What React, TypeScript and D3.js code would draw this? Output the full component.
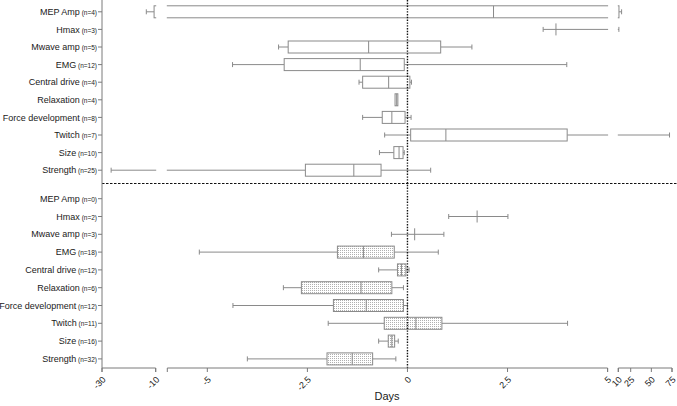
import React from 'react';
import * as d3 from 'd3';

const categories = [
  'MEP Amp', 'Hmax', 'Mwave amp', 'EMG', 'Central drive',
  'Relaxation', 'Force development', 'Twitch', 'Size', 'Strength',
];
const topN = [4, 3, 5, 12, 4, 4, 8, 7, 10, 25];
const bottomN = [0, 2, 3, 18, 12, 6, 12, 11, 16, 32];

type V = number | null;
const topMin: V[] = [-13.5, 3.39, -3.22, -4.37, -1.21, -0.31, -1.12, -0.57, -0.7, -26.6];
const topQ1: V[] = [-10.6, null, -2.98, -3.08, -1.12, -0.31, -0.63, 0.08, -0.34, -2.55];
const topMed: V[] = [2.15, 3.71, -0.97, -1.18, -0.47, -0.27, -0.39, 0.96, -0.21, -1.34];
const topQ3: V[] = [10.8, null, 0.83, -0.08, 0.06, -0.24, -0.06, 3.99, -0.11, -0.66];
const topMax: V[] = [14, 10.7, 1.61, 3.98, 0.1, -0.24, 0.09, 72, -0.08, 0.58];

const botMin: V[] = [null, 1.03, -0.4, -5.2, -0.72, -3.1, -4.36, -1.98, -0.72, -4.0];
const botQ1: V[] = [null, null, null, -1.75, -0.25, -2.65, -1.85, -0.58, -0.48, -2.01];
const botMed: V[] = [null, 1.74, 0.18, -1.1, -0.15, -1.16, -1.03, 0.21, -0.39, -1.38];
const botQ3: V[] = [null, null, null, -0.33, -0.04, -0.39, -0.1, 0.86, -0.32, -0.87];
const botMax: V[] = [null, 2.51, 0.91, 0.77, 0.04, -0.1, 0, 4.0, -0.23, -0.29];

const seg1Domain = [-30, -10];
const seg2Domain = [-6, 5];
const seg3Domain = [10, 75];
const seg1Ticks = [-30, -10];
const seg2Ticks = [-5, -2.5, 0, 2.5, 5];
const seg3Ticks = [10, 25, 50, 75];
const xTitle = 'Days';

const W = 677;
const H = 406;
const AXIS_X = 102;
const AXIS_Y = 368;
const GRAY = '#8a8a8a';
const AXIS_GRAY = '#7a7a7a';
const TEXT = '#1a1a1a';
const FONT = '"Liberation Sans", Arial, sans-serif';
const BOX_H = 12;
const CAP_H = 5;

const segScales = [
  d3.scaleLinear().domain(seg1Domain).range([102, 155.7]),
  d3.scaleLinear().domain(seg2Domain).range([167.3, 607.6]),
  d3.scaleLinear().domain(seg3Domain).range([618.3, 672]),
];
const segTicks = [seg1Ticks, seg2Ticks, seg3Ticks];

const yTop = d3.scaleBand<string>().domain(categories).range([3, 179]).padding(0);
const yBot = d3.scaleBand<string>().domain(categories).range([189.8, 367.8]).padding(0);

type Row = { min: V; q1: V; med: V; q3: V; max: V };
const topRows: Row[] = categories.map((_, i) => ({ min: topMin[i], q1: topQ1[i], med: topMed[i], q3: topQ3[i], max: topMax[i] }));
const botRows: Row[] = categories.map((_, i) => ({ min: botMin[i], q1: botQ1[i], med: botMed[i], q3: botQ3[i], max: botMax[i] }));

function BoxRow({ r, x, cy, fill }: { r: Row; x: d3.ScaleLinear<number, number>; cy: number; fill: string }) {
  if (r.med == null && r.min == null) return null;
  const els: React.ReactNode[] = [];
  if (r.q1 == null || r.q3 == null) {
    const a = x(r.min as number), b = x(r.max as number);
    els.push(<line key="w" x1={a} x2={b} y1={cy} y2={cy} />);
    els.push(<line key="c1" x1={a} x2={a} y1={cy - CAP_H / 2} y2={cy + CAP_H / 2} />);
    els.push(<line key="c2" x1={b} x2={b} y1={cy - CAP_H / 2} y2={cy + CAP_H / 2} />);
    if (r.med != null) {
      const m = x(r.med);
      els.push(<line key="m" x1={m} x2={m} y1={cy - BOX_H / 2} y2={cy + BOX_H / 2} />);
    }
  } else {
    const a = x(r.min as number), q1 = x(r.q1), q3 = x(r.q3), b = x(r.max as number);
    if (r.min != null && r.min < r.q1) {
      els.push(<line key="wl" x1={a} x2={q1} y1={cy} y2={cy} />);
      els.push(<line key="c1" x1={a} x2={a} y1={cy - CAP_H / 2} y2={cy + CAP_H / 2} />);
    }
    if (r.max != null && r.max > r.q3) {
      els.push(<line key="wr" x1={q3} x2={b} y1={cy} y2={cy} />);
      els.push(<line key="c2" x1={b} x2={b} y1={cy - CAP_H / 2} y2={cy + CAP_H / 2} />);
    }
    els.push(<rect key="b" x={q1} y={cy - BOX_H / 2} width={Math.max(0, q3 - q1)} height={BOX_H} fill={fill} />);
    if (r.med != null) {
      const m = x(r.med);
      els.push(<line key="m" x1={m} x2={m} y1={cy - BOX_H / 2} y2={cy + BOX_H / 2} />);
    }
  }
  return <g>{els}</g>;
}

function fmt(v: number) {
  return String(v);
}

export default function App() {
  return (
    <svg width={W} height={H} style={{ position: 'absolute', left: 0, top: 0, display: 'block', background: '#fff' }}
      fontFamily={FONT}>
      <defs>
        <pattern id="dots" width={2} height={2} patternUnits="userSpaceOnUse">
          <rect width={2} height={2} fill="#fff" />
          <rect width={1} height={1} fill="#b0b0b0" />
        </pattern>
        {segScales.map((s, i) => (
          <clipPath id={`seg${i}`} key={i}>
            <rect x={s.range()[0] - 0.5} y={0} width={s.range()[1] - s.range()[0] + 1} height={AXIS_Y} />
          </clipPath>
        ))}
      </defs>

      {segScales.map((s, si) => (
        <g key={si} clipPath={`url(#seg${si})`} stroke={GRAY} strokeWidth={1} fill="none">
          {topRows.map((r, i) => (
            <BoxRow key={'t' + i} r={r} x={s} cy={(yTop(categories[i]) as number) + yTop.bandwidth() / 2} fill="#fff" />
          ))}
          {botRows.map((r, i) => (
            <BoxRow key={'b' + i} r={r} x={s} cy={(yBot(categories[i]) as number) + yBot.bandwidth() / 2} fill="url(#dots)" />
          ))}
        </g>
      ))}

      <line x1={segScales[1](0)} x2={segScales[1](0)} y1={0} y2={AXIS_Y} stroke="#111" strokeWidth={1.4} strokeDasharray="1.4 1.4" />
      <line x1={AXIS_X} x2={W} y1={183.5} y2={183.5} stroke="#111" strokeWidth={1} strokeDasharray="2.5 1.5" />

      <line x1={AXIS_X} x2={AXIS_X} y1={0} y2={AXIS_Y} stroke={AXIS_GRAY} strokeWidth={1} />
      {[{ sc: yTop, ns: topN }, { sc: yBot, ns: bottomN }].map(({ sc, ns }, pi) => (
        <g key={pi}>
          {categories.map((c, i) => {
            const cy = (sc(c) as number) + sc.bandwidth() / 2;
            return (
              <g key={c}>
                <line x1={AXIS_X - 4} x2={AXIS_X} y1={cy} y2={cy} stroke={AXIS_GRAY} />
                <text x={AXIS_X - 5} y={cy} dy="0.35em" textAnchor="end" fill={TEXT} fontSize={9}>
                  {c}
                  <tspan fontSize={6.5}>{` (n=${ns[i]})`}</tspan>
                </text>
              </g>
            );
          })}
        </g>
      ))}

      {segScales.map((s, si) => {
        const [r0, r1] = s.range();
        return (
          <g key={si}>
            <line x1={r0} x2={r1} y1={AXIS_Y} y2={AXIS_Y} stroke={AXIS_GRAY} />
            <line x1={r0} x2={r0} y1={AXIS_Y} y2={AXIS_Y + 4} stroke={AXIS_GRAY} />
            <line x1={r1} x2={r1} y1={AXIS_Y} y2={AXIS_Y + 4} stroke={AXIS_GRAY} />
            {segTicks[si].map((t) => (
              <g key={t} transform={`translate(${s(t)},${AXIS_Y})`}>
                <line y2={4} stroke={AXIS_GRAY} />
                <text transform="translate(2,10) rotate(-45)" textAnchor="end" dy="0.35em" fontSize={9} fill={TEXT}>
                  {fmt(t)}
                </text>
              </g>
            ))}
          </g>
        );
      })}
      <text x={(AXIS_X + 672) / 2} y={400} textAnchor="middle" fontSize={11} fill={TEXT}>{xTitle}</text>
    </svg>
  );
}
